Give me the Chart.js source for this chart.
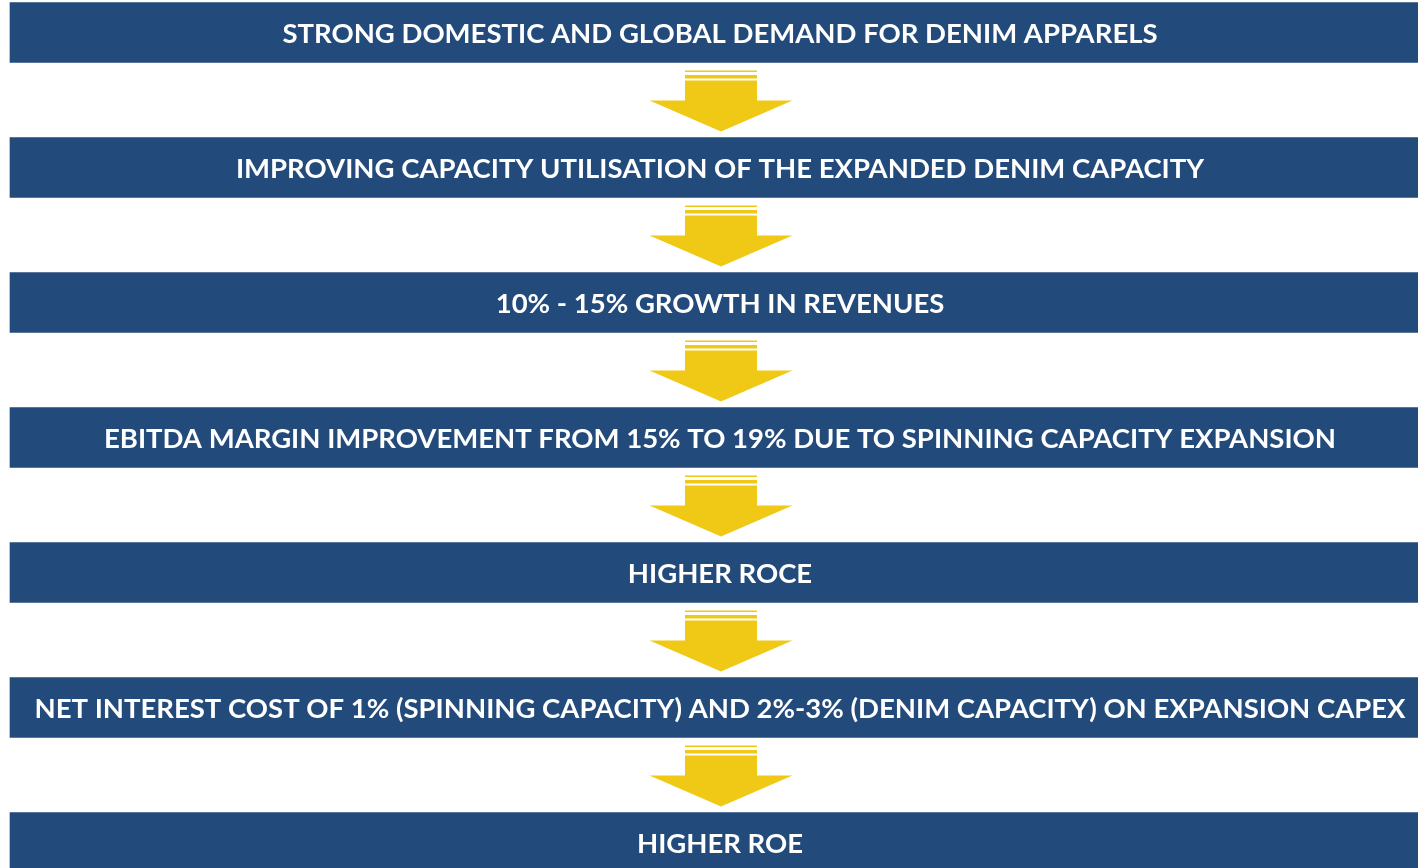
<!DOCTYPE html>
<html>
<head>
<meta charset="utf-8">
<script src="https://cdn.jsdelivr.net/npm/chart.js@4/dist/chart.umd.min.js"></script>
<style>
  html, body { margin: 0; padding: 0; background: #fff; overflow: hidden; }
  #wrap { width: 1418px; height: 868px; }
</style>
</head>
<body>
<div id="wrap"><canvas id="chart" width="1418" height="868"></canvas></div>
<script>
// flow steps, top to bottom
const steps = [
  'STRONG DOMESTIC AND GLOBAL DEMAND FOR DENIM APPARELS',
  'IMPROVING CAPACITY UTILISATION OF THE EXPANDED DENIM CAPACITY',
  '10% - 15% GROWTH IN REVENUES',
  'EBITDA MARGIN IMPROVEMENT FROM 15% TO 19% DUE TO SPINNING CAPACITY EXPANSION',
  'HIGHER ROCE',
  'NET INTEREST COST OF 1% (SPINNING CAPACITY) AND 2%-3% (DENIM CAPACITY) ON EXPANSION CAPEX',
  'HIGHER ROE',
];
const stepIndex = steps.map((s, i) => i);

const boxColor = '#224a7b';
const arrowColor = '#f0c917';
const BOX_LEFT = 10;
const BOX_RIGHT = 1440;
const TEXT_X = 720;
const ARROW_X = 721;

const flowPlugin = {
  id: 'flow',
  afterDatasetsDraw(chart) {
    const ctx = chart.ctx;
    const x = chart.scales.x;
    const y = chart.scales.y;
    const half = 30;
    ctx.save();
    // labels
    ctx.fillStyle = '#ffffff';
    ctx.font = 'bold 27.5px Lato';
    ctx.textAlign = 'center';
    ctx.textBaseline = 'alphabetic';
    steps.forEach((s, i) => {
      ctx.fillText(s, x.getPixelForValue(TEXT_X), y.getPixelForValue(i) + 10.5);
    });
    // arrows between boxes
    const cx = x.getPixelForValue(ARROW_X);
    ctx.fillStyle = arrowColor;
    for (let i = 0; i < steps.length - 1; i++) {
      const b = y.getPixelForValue(i) + half;
      ctx.fillRect(cx - 36, b + 8, 72, 1.5);
      ctx.fillRect(cx - 36, b + 12.5, 72, 3.5);
      ctx.fillRect(cx - 36, b + 18, 72, 20.5);
      ctx.beginPath();
      ctx.moveTo(cx - 71.5, b + 38);
      ctx.lineTo(cx + 71.5, b + 38);
      ctx.lineTo(cx, b + 69);
      ctx.closePath();
      ctx.fill();
    }
    ctx.restore();
  }
};

const chartData = {
  datasets: [
    {
      label: 'steps',
      backgroundColor: boxColor,
      borderWidth: 0,
      barThickness: 60,
      data: stepIndex.map(i => ({ x: [BOX_LEFT, BOX_RIGHT], y: i })),
    },
  ],
};

const chartConfig = {
  type: 'bar',
  data: chartData,
  options: {
    indexAxis: 'y',
    responsive: false,
    animation: false,
    layout: { padding: 0 },
    scales: {
      x: { type: 'linear', display: false, min: 0, max: 1418, offset: false },
      y: {
        type: 'linear', display: false, reverse: true, offset: false,
        min: -32.5 / 135, max: -32.5 / 135 + 868 / 135,
      },
    },
    plugins: { legend: { display: false }, tooltip: { enabled: false } },
  },
  plugins: [flowPlugin],
};

new Chart(document.getElementById('chart'), chartConfig);
</script>
</body>
</html>
